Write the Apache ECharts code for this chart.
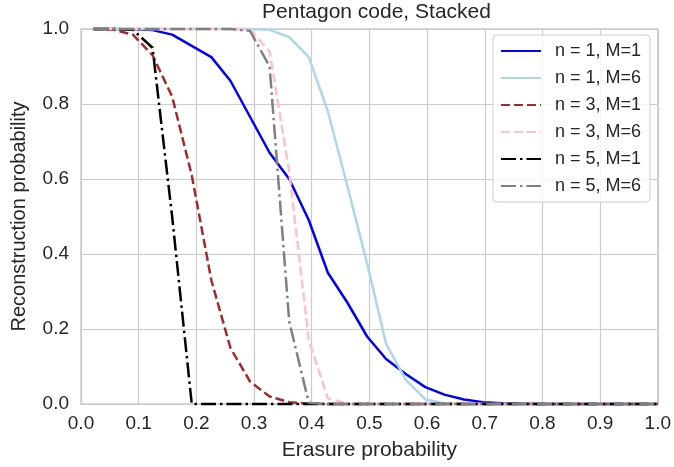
<!DOCTYPE html>
<html>
<head>
<meta charset="utf-8">
<script src="https://cdn.jsdelivr.net/npm/echarts@6/dist/echarts.min.js"></script>
<style>
html,body{margin:0;padding:0;background:#fff;}
#chart{width:674px;height:467px;}
</style>
</head>
<body>
<div id="chart"></div>
<script>
// Erasure probability (x) sample points
const erasureProb = [0.022,0.056,0.090,0.124,0.158,0.192,0.226,0.259,0.293,0.327,0.361,0.395,0.428,0.462,0.496,0.529,0.563,0.597,0.630,0.664,0.697,0.731,0.765,0.798,0.832,0.866,0.899,0.933,0.966,1.000];

// Reconstruction probability per series
const n1M1 = [1,1,0.999,0.997,0.985,0.955,0.925,0.862,0.766,0.67,0.60,0.49,0.35,0.27,0.18,0.12,0.08,0.045,0.025,0.012,0.005,0.002,0.001,0,0,0,0,0,0,0];
const n1M6 = [1,1,1,1,1,1,1,1,1,0.998,0.978,0.925,0.78,0.58,0.375,0.16,0.065,0.012,0.002,0,0,0,0,0,0,0,0,0,0,0];
const n3M1 = [1,0.998,0.985,0.93,0.82,0.61,0.33,0.15,0.06,0.02,0.005,0.001,0,0,0,0,0,0,0,0,0,0,0,0,0,0,0,0,0,0];
const n3M6 = [1,1,1,1,1,1,1,1,0.998,0.94,0.62,0.17,0.015,0.001,0,0,0,0,0,0,0,0,0,0,0,0,0,0,0,0];
const n5M1 = [1,1,0.998,0.95,0.50,0,0,0,0,0,0,0,0,0,0,0,0,0,0,0,0,0,0,0,0,0,0,0,0,0];
const n5M6 = [1,1,1,1,1,1,1,1,0.995,0.90,0.22,0.003,0,0,0,0,0,0,0,0,0,0,0,0,0,0,0,0,0,0];

const seriesNames = ['n = 1, M=1','n = 1, M=6','n = 3, M=1','n = 3, M=6','n = 5, M=1','n = 5, M=6'];
const xTickLabels = ['0.0','0.1','0.2','0.3','0.4','0.5','0.6','0.7','0.8','0.9','1.0'];
const yTickLabels = ['0.0','0.2','0.4','0.6','0.8','1.0'];

const seriesValues = [n1M1,n1M6,n3M1,n3M6,n5M1,n5M6];
const colors = ['#0000ff','#add8e6','#a52a2a','#ffc0cb','#000000','#808080'];
const dashes = ['solid','solid',[9,4],[9,4],[15,4,2.5,4],[15,4,2.5,4]];

const FONT = "'Liberation Sans', Arial, sans-serif";
const TXT = '#262626';

const chart = echarts.init(document.getElementById('chart'), null, {renderer:'canvas'});
chart.setOption({
  animation:false,
  backgroundColor:'#ffffff',
  title:{
    text:'Pentagon code, Stacked',
    left:371.5, top:-3, textAlign:'center',
    textStyle:{fontFamily:FONT,fontSize:21,fontWeight:'normal',color:TXT}
  },
  grid:{left:81,right:12,top:29,bottom:63,show:true,borderColor:'#cccccc',borderWidth:1.5,backgroundColor:'transparent'},
  legend:{
    orient:'vertical', left:493, top:35,
    padding:[5,9,5,7],
    itemWidth:40, itemHeight:14, itemGap:5,
    itemStyle:{opacity:0},
    backgroundColor:'rgba(255,255,255,0.8)', borderColor:'#cccccc', borderWidth:1, borderRadius:4,
    textStyle:{fontFamily:FONT,fontSize:18,color:TXT,lineHeight:22,padding:[0,0,0,9]},
    data:seriesNames
  },
  xAxis:{
    type:'value', min:0, max:1, interval:0.1,
    name:'Erasure probability', nameLocation:'middle', nameGap:36,
    nameTextStyle:{fontFamily:FONT,fontSize:21,color:TXT},
    axisLine:{show:false}, axisTick:{show:false},
    axisLabel:{fontFamily:FONT,fontSize:19,color:TXT,margin:10,
      formatter:(v)=>xTickLabels[Math.round(v*10)]},
    splitLine:{show:true,lineStyle:{color:'#cccccc',width:1.2}}
  },
  yAxis:{
    type:'value', min:0, max:1, interval:0.2,
    name:'Reconstruction probability', nameLocation:'middle', nameGap:52, nameRotate:90,
    nameTextStyle:{fontFamily:FONT,fontSize:20,color:TXT},
    axisLine:{show:false}, axisTick:{show:false},
    axisLabel:{fontFamily:FONT,fontSize:19,color:TXT,margin:12,
      formatter:(v)=>yTickLabels[Math.round(v*5)]},
    splitLine:{show:true,lineStyle:{color:'#cccccc',width:1.2}}
  },
  series: seriesValues.map((vals,i)=>({
    name:seriesNames[i],
    type:'line',
    symbol:'none',
    clip:false,
    color:colors[i],
    lineStyle:{color:colors[i],width:2.5,type:dashes[i]},
    data:vals.map((y,k)=>[erasureProb[k],y])
  }))
});
</script>
</body>
</html>
